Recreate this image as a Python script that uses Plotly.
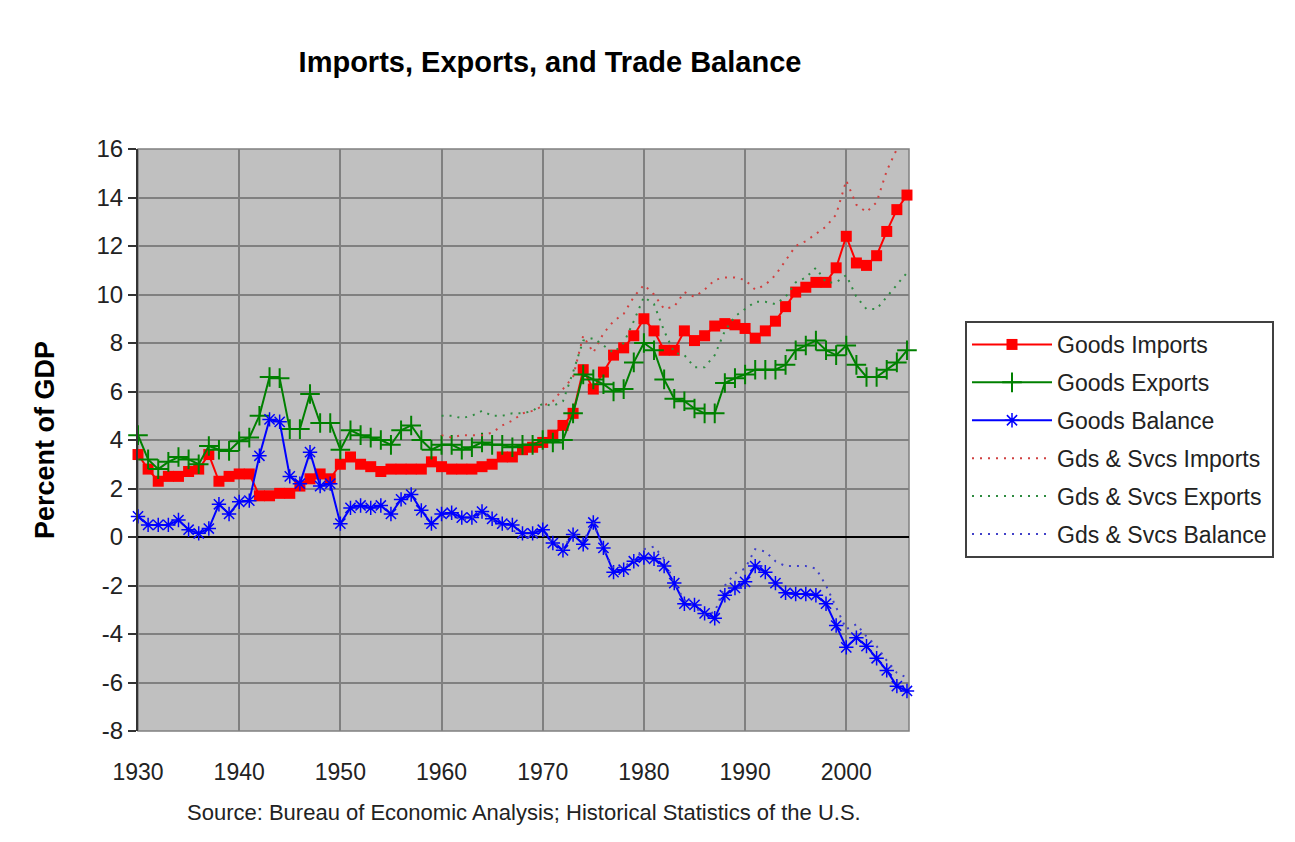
import plotly.graph_objects as go

# Years on the category axis
YEARS = list(range(1930, 2007))
YEARS_GS = list(range(1960, 2007))

# y-axis ticks (hyphen minus, as in the original)
Y_TICKS = [-8, -6, -4, -2, 0, 2, 4, 6, 8, 10, 12, 14, 16]
Y_TICK_TEXT = ["-8", "-6", "-4", "-2", "0", "2", "4", "6", "8", "10", "12", "14", "16"]

# Goods series, percent of GDP, 1930-2006
GOODS_IMPORTS = [
    3.4, 2.8, 2.3, 2.5, 2.5, 2.7, 2.8, 3.4, 2.3, 2.5,   # 1930s
    2.6, 2.6, 1.7, 1.7, 1.8, 1.8, 2.1, 2.4, 2.6, 2.4,   # 1940s
    3.0, 3.3, 3.0, 2.9, 2.7, 2.8, 2.8, 2.8, 2.8, 3.1,   # 1950s
    2.9, 2.8, 2.8, 2.8, 2.9, 3.0, 3.3, 3.3, 3.6, 3.7,   # 1960s
    3.9, 4.2, 4.6, 5.1, 6.9, 6.1, 6.8, 7.5, 7.8, 8.3,   # 1970s
    9.0, 8.5, 7.7, 7.7, 8.5, 8.1, 8.3, 8.7, 8.8, 8.75,  # 1980s
    8.6, 8.2, 8.5, 8.9, 9.5, 10.1, 10.3, 10.5, 10.5, 11.1,  # 1990s
    12.4, 11.3, 11.2, 11.6, 12.6, 13.5, 14.1,           # 2000s
]
GOODS_EXPORTS = [
    4.2, 3.2, 2.8, 3.1, 3.3, 3.2, 3.0, 3.75, 3.6, 3.55,
    3.95, 4.1, 5.0, 6.6, 6.55, 4.45, 4.45, 5.9, 4.7, 4.7,
    3.6, 4.4, 4.2, 4.1, 4.0, 3.8, 4.4, 4.6, 4.0, 3.6,
    3.8, 3.8, 3.6, 3.7, 3.9, 3.8, 3.8, 3.7, 3.8, 3.8,
    4.0, 3.9, 4.0, 5.1, 6.7, 6.5, 6.3, 6.0, 6.1, 7.2,
    8.0, 7.7, 6.5, 5.7, 5.6, 5.3, 5.1, 5.1, 6.35, 6.55,
    6.7, 6.9, 6.9, 6.9, 7.1, 7.7, 7.9, 8.1, 7.7, 7.5,
    7.9, 7.1, 6.6, 6.6, 6.9, 7.2, 7.7,
]
GOODS_BALANCE = [
    0.85, 0.5, 0.5, 0.5, 0.7, 0.3, 0.15, 0.35, 1.35, 0.95,
    1.45, 1.5, 3.35, 4.85, 4.75, 2.5, 2.2, 3.5, 2.1, 2.2,
    0.55, 1.2, 1.3, 1.2, 1.3, 0.95, 1.55, 1.75, 1.1, 0.55,
    0.95, 1.0, 0.8, 0.8, 1.05, 0.75, 0.55, 0.5, 0.15, 0.15,
    0.3, -0.25, -0.55, 0.1, -0.3, 0.6, -0.45, -1.45, -1.35, -1.0,
    -0.85, -0.9, -1.2, -1.9, -2.75, -2.8, -3.15, -3.35, -2.4, -2.1,
    -1.85, -1.2, -1.45, -1.9, -2.3, -2.35, -2.35, -2.4, -2.75, -3.65,
    -4.55, -4.15, -4.5, -5.0, -5.5, -6.15, -6.35,
]

# Goods & services series, 1960-2006
GS_IMPORTS = [
    4.2, 4.1, 4.2, 4.2, 4.2, 4.3, 4.6, 4.8, 5.1, 5.2,
    5.4, 5.6, 6.1, 6.6, 8.3, 7.6, 8.4, 8.9, 9.2, 9.9,
    10.4, 10.0, 9.4, 9.5, 10.1, 9.9, 10.2, 10.6, 10.7, 10.7,
    10.6, 10.2, 10.4, 10.8, 11.4, 12.0, 12.2, 12.5, 12.8, 13.3,
    14.7, 13.7, 13.4, 13.8, 15.1, 16.0, 16.6,
]
GS_EXPORTS = [
    5.0, 5.0, 4.9, 5.0, 5.2, 5.0, 5.0, 5.1, 5.1, 5.2,
    5.5, 5.4, 5.6, 6.8, 8.1, 8.2, 7.9, 7.6, 8.0, 8.9,
    9.9, 9.6, 8.5, 7.6, 7.5, 7.0, 7.0, 7.5, 8.5, 9.1,
    9.4, 9.7, 9.7, 9.6, 9.9, 10.5, 10.7, 11.1, 10.5, 10.5,
    10.8, 9.9, 9.4, 9.4, 9.9, 10.4, 10.9,
]
GS_BALANCE = [
    0.8, 0.9, 0.7, 0.8, 1.0, 0.7, 0.4, 0.3, 0.0, 0.0,
    0.1, -0.2, -0.5, 0.2, -0.2, 0.6, -0.5, -1.3, -1.2, -1.0,
    -0.5, -0.4, -0.9, -1.9, -2.6, -2.9, -3.2, -3.1, -2.0, -1.5,
    -1.3, -0.5, -0.6, -1.0, -1.2, -1.2, -1.2, -1.3, -2.0, -2.9,
    -3.8, -3.6, -4.1, -4.5, -5.1, -5.6, -5.8,
]

FONT = "Arial, Liberation Sans, sans-serif"
RED, GREEN, BLUE = "#FF0000", "#008000", "#0000FF"

# page body adds an 8px offset; margins compensate for it
OFF = 8

fig = go.Figure()

fig.add_trace(go.Scatter(
    x=YEARS, y=GOODS_IMPORTS, name="Goods Imports", legendgroup="a",
    mode="lines+markers", cliponaxis=False,
    line=dict(color=RED, width=2),
    marker=dict(symbol="square", size=11, color=RED),
))
fig.add_trace(go.Scatter(
    x=YEARS, y=GOODS_EXPORTS, name="Goods Exports", legendgroup="b",
    mode="lines+markers", cliponaxis=False,
    line=dict(color=GREEN, width=2),
    marker=dict(symbol="cross-thin-open", size=14, line=dict(color=GREEN, width=2)),
))
fig.add_trace(go.Scatter(
    x=YEARS, y=GOODS_BALANCE, name="Goods Balance", legendgroup="c",
    mode="lines+markers", cliponaxis=False,
    line=dict(color=BLUE, width=2),
    marker=dict(symbol="asterisk-open", size=12, line=dict(color=BLUE, width=1.5)),
))
fig.add_trace(go.Scatter(
    x=YEARS_GS, y=GS_IMPORTS, name="Gds & Svcs Imports", legendgroup="d",
    mode="lines", line=dict(color="#D04040", width=2, dash="2px,6px"),
))
fig.add_trace(go.Scatter(
    x=YEARS_GS, y=GS_EXPORTS, name="Gds & Svcs Exports", legendgroup="e",
    mode="lines", line=dict(color="#2E8B40", width=2, dash="2px,6px"),
))
fig.add_trace(go.Scatter(
    x=YEARS_GS, y=GS_BALANCE, name="Gds & Svcs Balance", legendgroup="f",
    mode="lines", line=dict(color="#4040C8", width=2, dash="2px,6px"),
))

# plot area border (grey) like the spreadsheet frame
fig.add_shape(type="rect", xref="x domain", yref="y domain",
              x0=0, x1=1, y0=0, y1=1, line=dict(color="#808080", width=1.5),
              layer="below")

fig.update_layout(
    width=1295, height=842,
    margin=dict(l=138 - OFF, r=386 + OFF, t=149 - OFF, b=111 + OFF),
    paper_bgcolor="white",
    plot_bgcolor="#C0C0C0",
    font=dict(family=FONT, size=21, color="#111"),
    title=dict(text="<b>Imports, Exports, and Trade Balance</b>",
               font=dict(size=29, color="#000"),
               x=(550 - OFF) / 1295, xanchor="center", xref="container",
               y=1 - (62 - OFF) / 842, yanchor="middle", yref="container"),
    legend=dict(x=(965 - 138) / 771, xanchor="left", y=(731 - 321) / 582, yanchor="top",
                bgcolor="white", bordercolor="#404040", borderwidth=2,
                font=dict(size=23, color="#222"),
                tracegroupgap=5, itemwidth=80),
    showlegend=True,
)

fig.update_xaxes(
    range=[1930, 2006.2], tick0=1930, dtick=10,
    showgrid=True, gridcolor="#808080", gridwidth=1.5,
    zeroline=False, showline=False,
    ticks="", ticklabelstandoff=25,
    tickfont=dict(size=23, color="#222"),
)
fig.update_yaxes(
    range=[-8, 16], tickvals=Y_TICKS, ticktext=Y_TICK_TEXT,
    showgrid=True, gridcolor="#808080", gridwidth=1.5,
    zeroline=True, zerolinecolor="#000", zerolinewidth=2,
    showline=True, linecolor="#333", linewidth=2,
    ticks="outside", ticklen=8, tickcolor="#333", tickwidth=2,
    tickfont=dict(size=24, color="#222"),
)

fig.add_annotation(
    text="<b>Percent of GDP</b>", textangle=-90,
    xref="paper", yref="paper", x=-(138 - 45) / 771, y=0.5,
    xanchor="center", yanchor="middle", showarrow=False,
    font=dict(size=27, color="#000"),
)
fig.add_annotation(
    text="Source: Bureau of Economic Analysis; Historical Statistics of the U.S.",
    xref="paper", yref="paper", x=0.5, y=-(812 - 731) / 582,
    xanchor="center", yanchor="middle", showarrow=False,
    font=dict(size=22, color="#222"),
)

fig.write_html("out.html")
